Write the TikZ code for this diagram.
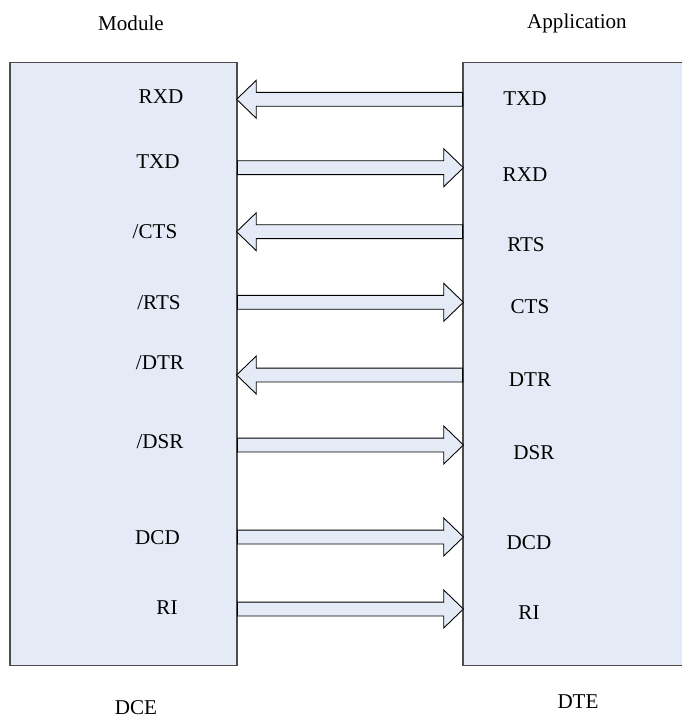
\documentclass[tikz,border=0pt]{standalone}
\usepackage{fontspec}
\setmainfont{Liberation Serif}
\usetikzlibrary{shapes.arrows}
\definecolor{boxfill}{RGB}{228,235,246}

\begin{document}
\begin{tikzpicture}[
    x=0.02cm, y=-0.02cm,
    every node/.style={font=\fontsize{12}{14}\selectfont},
    box/.style={draw=black!70, line width=0.6pt, fill=boxfill, inner sep=0pt},
    sig/.style={single arrow, draw=black, line width=0.5pt, fill=boxfill, inner xsep=0pt, inner ysep=0.13cm,
        single arrow head extend=0.24cm, single arrow tip angle=88, single arrow head indent=0pt,
        minimum height=4.52cm, minimum width=0pt, anchor=tail},
    tol/.style={sig, shape border rotate=180},
    tor/.style={sig}
]
\useasboundingbox (0,0) rectangle (681,718);

\node[box, minimum width=4.54cm, minimum height=12.08cm] (dce) at (123.5,364) {};
\node[box, minimum width=4.74cm, minimum height=12.08cm] (dte) at (581.5,364) {};

\node (module) at (131,23) {Module};
\node (appl) at (577,23) {Application};
\node (dcelbl) at (136,708) {DCE};
\node (dtelbl) at (578,702) {DTE};

% module side
\node (m1) at (161,97) {RXD};
\node (m2) at (158,162) {TXD};
\node (m3) at (155,232) {/CTS};
\node (m4) at (159,303) {/RTS};
\node (m5) at (160,363) {/DTR};
\node (m6) at (160,442) {/DSR};
\node (m7) at (157.5,538) {DCD};
\node (m8) at (167,608) {RI};

% application side
\node (a1) at (525,99) {TXD};
\node (a2) at (525,175) {RXD};
\node (a3) at (526,245) {RTS};
\node (a4) at (530,307) {CTS};
\node (a5) at (530,380) {DTR};
\node (a6) at (534,453) {DSR};
\node (a7) at (529,543) {DCD};
\node (a8) at (529,613) {RI};

% signal arrows, tails on the box edges
\node[tol] (s1) at (463,99.3) {};
\node[tor] (s2) at (237,167.7) {};
\node[tol] (s3) at (463,231.7) {};
\node[tor] (s4) at (237,302.3) {};
\node[tol] (s5) at (463,375) {};
\node[tor] (s6) at (237,445) {};
\node[tor] (s7) at (237,537) {};
\node[tor] (s8) at (237,609) {};
\end{tikzpicture}
\end{document}
